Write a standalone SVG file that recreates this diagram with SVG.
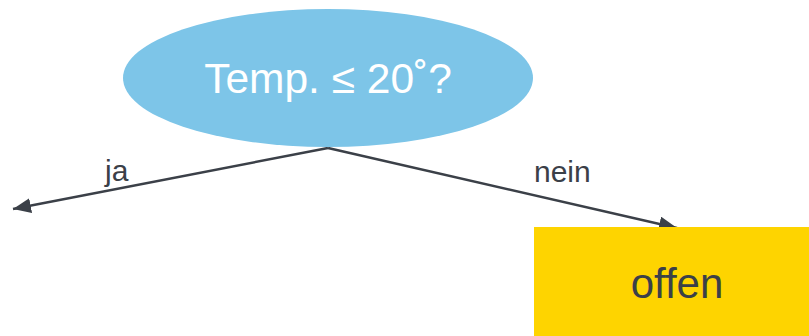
<svg xmlns="http://www.w3.org/2000/svg" width="809" height="336" viewBox="0 0 809 336">
  <defs>
    <style>
      .edge { fill: none; stroke: #3b4048; stroke-width: 2.5; }
      .lbl { font-family: "Liberation Sans", Arial, sans-serif; font-size: 30px; fill: #3b4048; }
      .title { font-family: "Liberation Sans", Arial, sans-serif; font-size: 42.5px; fill: #ffffff; text-anchor: middle; }
      .leaf { font-family: "Liberation Sans", Arial, sans-serif; font-size: 42px; fill: #3b4048; text-anchor: middle; }
    </style>
    <marker id="arr" markerUnits="userSpaceOnUse" markerWidth="19" markerHeight="15" refX="18" refY="7.5" orient="auto">
      <path d="M0,0 L18,7.5 L0,15 Z" fill="#3b4048"/>
    </marker>
  </defs>
  <rect width="809" height="336" fill="#ffffff"/>
  <g id="connectors">
    <line class="edge" x1="328" y1="148" x2="13" y2="209" marker-end="url(#arr)"/>
    <line class="edge" x1="328" y1="148" x2="677" y2="228" marker-end="url(#arr)"/>
    <text class="lbl" x="105" y="181">ja</text>
    <text class="lbl" x="534" y="182">nein</text>
  </g>
  <g id="node-temp">
    <ellipse cx="328" cy="78" rx="205" ry="69" fill="#7dc5e8"/>
    <text class="title" x="328" y="93">Temp. ≤ 20˚?</text>
  </g>
  <g id="node-offen">
    <rect x="534" y="227" width="286" height="120" fill="#fed400"/>
    <text class="leaf" x="677" y="298">offen</text>
  </g>
</svg>
